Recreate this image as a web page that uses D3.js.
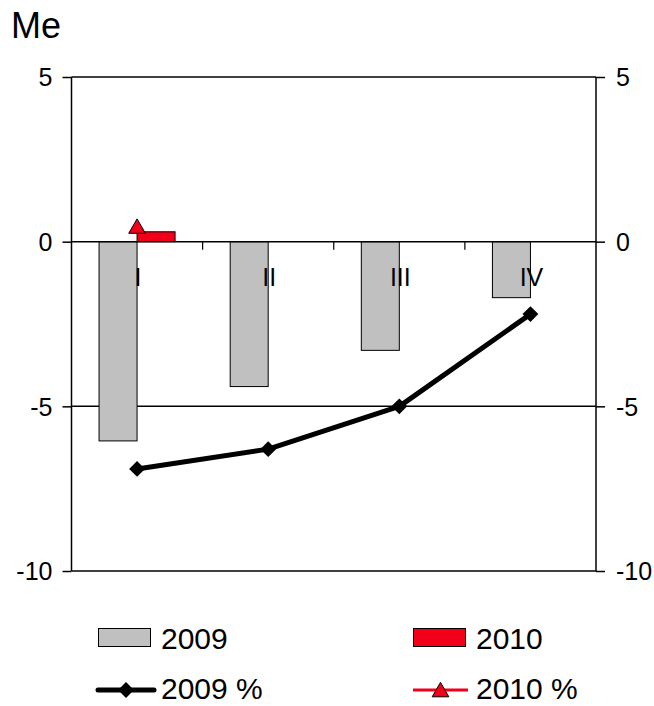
<!DOCTYPE html>
<html>
<head>
<meta charset="utf-8">
<script src="https://cdn.jsdelivr.net/npm/d3@7"></script>
<style>
  html, body { margin: 0; padding: 0; background: #fff; }
  svg { display: block; font-family: "Liberation Sans", Arial, sans-serif; }
</style>
</head>
<body>
<svg id="chart" width="654" height="706"></svg>
<script>
const categories = ["I", "II", "III", "IV"];
const series2009 = [-6.05, -4.4, -3.3, -1.7];
const series2010 = [0.3, null, null, null];
const pct2009 = [-6.9, -6.3, -5.0, -2.2];
const pct2010 = [0.4, null, null, null];
const yTicks = [5, 0, -5, -10];
const unitLabel = "Me";
const legendLabels = ["2009", "2010", "2009 %", "2010 %"];

(function () {
const svg = d3.select("#chart");
const pL = 71.5, pR = 596, pT = 77, pB = 571;
const tickFont = 25;

const x = d3.scaleBand().domain(categories).range([pL, pR]).padding(0);
const y = d3.scaleLinear().domain([-10, 5]).range([pB, pT]);
const y2 = d3.scaleLinear().domain([-10, 5]).range([pB, pT]);
const barW = 38;
const xs = d3.scaleBand().domain(["2009", "2010"]).range([-barW, barW]).padding(0);

const gray = "#c0c0c0", red = "#f20019";
const fmt = d => String(d);

// gridlines (behind bars)
svg.append("g").selectAll("line").data(yTicks.filter(d => d !== 0)).join("line")
  .attr("x1", pL).attr("x2", pR)
  .attr("y1", d => y(d)).attr("y2", d => y(d))
  .attr("stroke", "#000").attr("stroke-width", 1.5);

// bars
const cx = c => x(c) + x.bandwidth() / 2;
svg.append("g").selectAll("rect").data(categories.map((c, i) => ({c, v: series2009[i]}))).join("rect")
  .attr("x", d => cx(d.c) + xs("2009"))
  .attr("width", xs.bandwidth())
  .attr("y", d => y(Math.max(0, d.v)))
  .attr("height", d => Math.abs(y(d.v) - y(0)))
  .attr("fill", gray).attr("stroke", "#000").attr("stroke-width", 1);
svg.append("g").selectAll("rect").data(categories.map((c, i) => ({c, v: series2010[i]})).filter(d => d.v != null)).join("rect")
  .attr("x", d => cx(d.c) + xs("2010"))
  .attr("width", xs.bandwidth())
  .attr("y", d => y(Math.max(0, d.v)))
  .attr("height", d => Math.abs(y(d.v) - y(0)))
  .attr("fill", red).attr("stroke", "#000").attr("stroke-width", 1);

// zero (category) axis line
svg.append("line").attr("x1", pL).attr("x2", pR).attr("y1", y(0)).attr("y2", y(0))
  .attr("stroke", "#000").attr("stroke-width", 1.5);
// category tick marks
svg.append("g").selectAll("line").data(categories.slice(1)).join("line")
  .attr("x1", d => x(d)).attr("x2", d => x(d))
  .attr("y1", y(0)).attr("y2", y(0) + 8)
  .attr("stroke", "#000").attr("stroke-width", 1.2);
// category labels
svg.append("g").selectAll("text").data(categories).join("text")
  .attr("x", d => cx(d) + 1).attr("y", y(0) + 44)
  .attr("text-anchor", "middle").attr("font-size", tickFont).text(d => d);

// left axis
const yAxisL = d3.axisLeft(y).tickValues(yTicks).tickSize(9).tickPadding(10).tickFormat(fmt);
const gL = svg.append("g").attr("transform", `translate(${pL},0)`).call(yAxisL);
gL.select(".domain").attr("stroke", "#000").attr("stroke-width", 1.5).attr("d", `M0,${pT}V${pB}`);
gL.selectAll(".tick line").attr("stroke-width", 1.5);
gL.selectAll(".tick text").attr("font-size", tickFont).attr("font-family", "Liberation Sans, Arial, sans-serif").attr("fill", "#000").attr("dy", "0.35em");

// right axis
const yAxisR = d3.axisRight(y2).tickValues(yTicks).tickSize(9).tickPadding(11).tickFormat(fmt);
const gR = svg.append("g").attr("transform", `translate(${pR},0)`).call(yAxisR);
gR.select(".domain").attr("stroke", "#000").attr("stroke-width", 1.5).attr("d", `M0,${pT}V${pB}`);
gR.selectAll(".tick line").attr("stroke-width", 1.5);
gR.selectAll(".tick text").attr("font-size", tickFont).attr("font-family", "Liberation Sans, Arial, sans-serif").attr("fill", "#000").attr("dy", "0.35em");

// lines
const line = d3.line().defined(d => d.v != null).x(d => cx(d.c)).y(d => y2(d.v));
const d09 = categories.map((c, i) => ({c, v: pct2009[i]}));
const d10 = categories.map((c, i) => ({c, v: pct2010[i]}));
svg.append("path").datum(d09).attr("d", line).attr("fill", "none")
  .attr("stroke", "#000").attr("stroke-width", 5).attr("stroke-linejoin", "round");
svg.append("path").datum(d10.filter(d => d.v != null)).attr("d", line).attr("fill", "none")
  .attr("stroke", red).attr("stroke-width", 3);

const diamond = d3.symbol().type(d3.symbolDiamond2).size(160);
svg.append("g").selectAll("path").data(d09).join("path")
  .attr("transform", d => `translate(${cx(d.c)},${y2(d.v)})`)
  .attr("d", diamond).attr("fill", "#000");
const tri = d3.symbol().type(d3.symbolTriangle).size(120);
svg.append("g").selectAll("path").data(d10.filter(d => d.v != null)).join("path")
  .attr("transform", d => `translate(${cx(d.c)},${y2(d.v)})`)
  .attr("d", tri).attr("fill", red).attr("stroke", "#000").attr("stroke-width", 1);

// unit label
svg.append("text").attr("x", 11).attr("y", 38).attr("font-size", 36).text(unitLabel);

// legend
const lg = svg.append("g").attr("font-size", 30);
lg.append("rect").attr("x", 98.5).attr("y", 628.5).attr("width", 52).attr("height", 18)
  .attr("fill", gray).attr("stroke", "#000").attr("stroke-width", 1);
lg.append("text").attr("x", 161).attr("y", 649).text(legendLabels[0]);
lg.append("rect").attr("x", 413.5).attr("y", 628.5).attr("width", 52).attr("height", 18)
  .attr("fill", red).attr("stroke", "#000").attr("stroke-width", 1);
lg.append("text").attr("x", 476).attr("y", 649).text(legendLabels[1]);

lg.append("line").attr("x1", 98).attr("x2", 154).attr("y1", 690).attr("y2", 690)
  .attr("stroke", "#000").attr("stroke-width", 5).attr("stroke-linecap", "round");
lg.append("path").attr("transform", "translate(126,690)").attr("d", diamond).attr("fill", "#000");
lg.append("text").attr("x", 161).attr("y", 699).text(legendLabels[2]);
lg.append("line").attr("x1", 413).attr("x2", 468).attr("y1", 690).attr("y2", 690)
  .attr("stroke", red).attr("stroke-width", 3);
lg.append("path").attr("transform", "translate(440.5,692)").attr("d", tri).attr("fill", red).attr("stroke", "#000").attr("stroke-width", 1);
lg.append("text").attr("x", 476).attr("y", 699).text(legendLabels[3]);
})();
</script>
</body>
</html>
